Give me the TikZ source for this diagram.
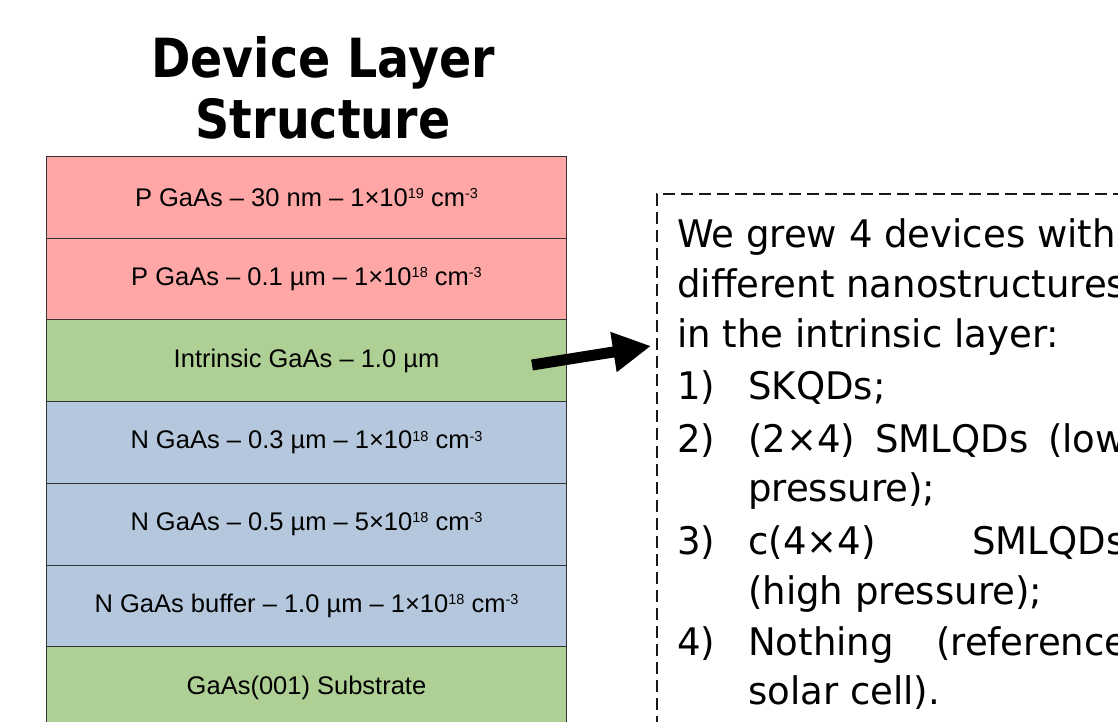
\documentclass[tikz,border=0pt]{standalone}
\usepackage{fontspec}
\setmainfont{Liberation Sans}
\newfontfamily\tahomalike[FakeStretch=0.975]{DejaVu Sans}
\newfontfamily\tahomabold[FakeStretch=0.88]{DejaVu Sans Bold}
\usetikzlibrary{arrows.meta}
\definecolor{pinkc}{HTML}{FFA6A6}
\definecolor{greenc}{HTML}{AFD095}
\definecolor{bluec}{HTML}{B4C7DC}
\definecolor{edgec}{HTML}{333333}
\newcommand\supr[1]{\raisebox{7.6pt}{\fontsize{14.5}{14.5}\selectfont #1}}
\begin{document}
\begin{tikzpicture}[x=1pt,y=-1pt,
  layer/.style={draw=edgec, line width=1pt, minimum width=520pt, minimum height=81.7pt,
    inner sep=0pt, anchor=north west, font=\fontsize{25.5}{30}\selectfont},
  titletext/.style={font=\tahomabold\fontsize{54}{62}\selectfont, align=center, inner sep=0pt},
  boxline/.style={anchor=base west, inner sep=0pt, font=\tahomalike\fontsize{38}{44}\selectfont},
  bigarrow/.style={line width=11pt, -{Triangle[length=38pt,width=38pt]}}]
\useasboundingbox (0,0) rectangle (1118,722);
\clip (0,0) rectangle (1118,722);
\fill[white] (0,0) rectangle (1118,722);
% title
\node[titletext, anchor=base] (t1) at (323,78) {Device Layer};
\node[titletext, anchor=base] (t2) at (323,139) {Structure};
% layers
\node[layer, fill=pinkc] (l1) at (46,156) {P GaAs -- 30 nm -- 1×10\supr{19} cm\supr{-3}};
\node[layer, fill=pinkc] (l2) at (46,237.7) {P GaAs -- 0.1 µm -- 1×10\supr{18} cm\supr{-3}};
\node[layer, fill=greenc] (l3) at (46,319.4) {Intrinsic GaAs -- 1.0 µm};
\node[layer, fill=bluec] (l4) at (46,401.1) {N GaAs -- 0.3 µm -- 1×10\supr{18} cm\supr{-3}};
\node[layer, fill=bluec] (l5) at (46,482.8) {N GaAs -- 0.5 µm -- 5×10\supr{18} cm\supr{-3}};
\node[layer, fill=bluec] (l6) at (46,564.5) {N GaAs buffer -- 1.0 µm -- 1×10\supr{18} cm\supr{-3}};
\node[layer, fill=greenc] (l7) at (46,646.2) {GaAs(001) Substrate};
% dashed box
\node[draw=black!90, dash pattern=on 12pt off 6pt, line width=1.5pt, minimum width=600pt,
  minimum height=600pt, anchor=north west, inner sep=0pt] (box) at (656,193) {};
% arrow
\coordinate (astart) at (532,365);
\coordinate (aend) at (651,346);
\draw[bigarrow] (astart) -- (aend);
% box text
\node[boxline] (b1) at (677,247) {We grew 4 devices with};
\node[boxline] (b2) at (677,297) {different nanostructures};
\node[boxline] (b3) at (677,347) {in the intrinsic layer:};
\node[boxline] (n1) at (677,399) {1)};
\node[boxline] (i1) at (748,399) {SKQDs;};
\node[boxline] (n2) at (677,452) {2)};
\node[boxline] (i2a) at (748,452) {(2×4)};
\node[boxline] (i2b) at (875,452) {SMLQDs};
\node[boxline] (i2c) at (1048,452) {(low};
\node[boxline] (i2d) at (748,501) {pressure);};
\node[boxline] (n3) at (677,554) {3)};
\node[boxline] (i3a) at (748,554) {c(4×4)};
\node[boxline] (i3b) at (972,554) {SMLQDs};
\node[boxline] (i3c) at (748,604) {(high pressure);};
\node[boxline] (n4) at (677,655) {4)};
\node[boxline] (i4a) at (748,655) {Nothing};
\node[boxline] (i4b) at (936,655) {(reference};
\node[boxline] (i4c) at (748,704) {solar cell).};
\end{tikzpicture}
\end{document}
